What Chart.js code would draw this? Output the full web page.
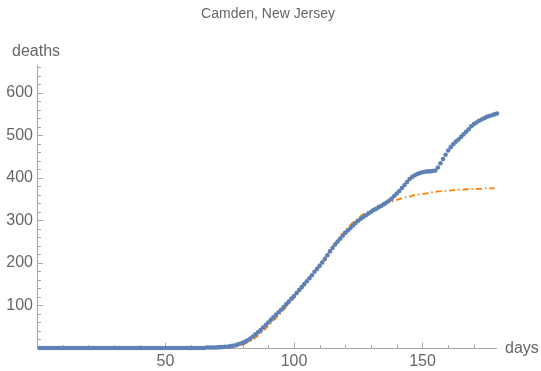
<!DOCTYPE html>
<html>
<head>
<meta charset="utf-8">
<script src="https://cdn.jsdelivr.net/npm/chart.js@4.4.1/dist/chart.umd.min.js"></script>
<style>
  html, body { margin:0; padding:0; background:#fff; }
  #wrap { width:541px; height:371px; }
</style>
</head>
<body>
<div id="wrap"><canvas id="chart" width="541" height="371"></canvas></div>
<script>
// Camden, NJ: muertes acumuladas (puntos) y ajuste (línea punto-raya)
const title = 'Camden, New Jersey';
const xLabel = 'days';
const yLabel = 'deaths';
const firstDay = 1;

// muertes observadas, un valor por día desde el día 1
const deaths = [
  0,0,0,0,0,0,0,0,0,0, 0,0,0,0,0,0,0,0,0,0,
  0,0,0,0,0,0,0,0,0,0, 0,0,0,0,0,0,0,0,0,0,
  0,0,0,0,0,0,0,0,0,0, 0,0,0,0,0,0,0,0,0,0,
  0,0,0,0,0,1,1,1,1,1,
  2,2,3,3,4,5,6,8,10,12,
  15,18,22,27,32,37,42,48,54,60,
  66,72,78,84,90,96,103,109,116,122,
  129,136,143,150,157,164,171,179,186,193,
  201,209,218,227,235,243,250,257,264,271,
  276,282,288,294,299,304,308,312,316,320,
  324,327,331,334,338,342,346,351,357,363,
  369,376,383,390,397,402,406,409,411,413,
  414,415,415,416,417,424,434,444,454,464,
  472,479,485,490,496,502,508,514,521,526,
  530,534,537,540,543,545,547,549,551,553
];

// curva ajustada, un valor por día desde el día 1
const fit = [
  0,0,0,0,0,0,0,0,0,0, 0,0,0,0,0,0,0,0,0,0,
  0,0,0,0,0,0,0,0,0,0, 0,0,0,0,0,0,0,0,0,0,
  0,0,0,0,0,0,0,0,0,0, 0,0,0,0,0,0,0,0,0,0,
  0,0,0,0,0,0,0,0,0,0,
  1,1,1,2,2,3,4,5,6,8,
  10,13,16,20,24,29,34,40,46,52,
  58,64,70,77,83,90,97,104,111,118,
  125,133,140,148,156,164,172,180,188,196,
  204,212,221,229,238,246,254,262,269,276,
  283,289,295,300,305,310,314,318,321,324,
  327,330,333,336,338,340,342,344,346,348,
  350,352,353,355,356,358,359,360,361,362,
  363,364,365,366,367,368,368,369,369,370,
  370,371,371,372,372,372,373,373,373,374,
  374,374,374,375,375,375,375,376
];

const xTickLabels = [50, 100, 150];
const yTickLabels = [100, 200, 300, 400, 500, 600];

const BLUE = '#5e81b5';
const ORANGE = '#ff8000';
const TEXT = '#666666';
const AXIS = '#a8a8a8';
const FONT = '"Liberation Sans", Arial, sans-serif';

const toPts = arr => arr.map((v, i) => ({ x: firstDay + i, y: v }));

// ejes al estilo Mathematica: línea + marcas hacia dentro
const axesPlugin = {
  id: 'mmaAxes',
  beforeDatasetsDraw(chart) {
    const { ctx, chartArea: a, scales: { x, y } } = chart;
    ctx.save();
    ctx.strokeStyle = AXIS;
    ctx.lineWidth = 1;
    ctx.beginPath();
    ctx.moveTo(a.left + 0.5, a.top);
    ctx.lineTo(a.left + 0.5, a.bottom + 1);
    ctx.moveTo(a.left, a.bottom + 0.5);
    ctx.lineTo(a.right, a.bottom + 0.5);
    for (let v = 10; v < x.max; v += 10) {
      const px = Math.round(x.getPixelForValue(v)) + 0.5;
      const len = v % 50 === 0 ? 5.5 : 3;
      ctx.moveTo(px, a.bottom);
      ctx.lineTo(px, a.bottom - len);
    }
    for (let v = 20; v < y.max; v += 20) {
      const py = Math.round(y.getPixelForValue(v)) + 0.5;
      const len = v % 100 === 0 ? 5 : 3;
      ctx.moveTo(a.left + 1, py);
      ctx.lineTo(a.left + 1 + len, py);
    }
    ctx.stroke();
    ctx.restore();
  },
  afterDraw(chart) {
    const { ctx } = chart;
    ctx.save();
    ctx.fillStyle = TEXT;
    ctx.textBaseline = 'alphabetic';
    ctx.textAlign = 'center';
    ctx.font = '14px ' + FONT;
    ctx.fillText(title, 268, 18);
    ctx.textAlign = 'left';
    ctx.font = '16px ' + FONT;
    ctx.fillText(yLabel, 12, 56);
    ctx.fillText(xLabel, 505, 353);
    ctx.restore();
  }
};

new Chart(document.getElementById('chart'), {
  type: 'scatter',
  data: {
    datasets: [
      {
        label: 'deaths',
        data: toPts(deaths),
        showLine: false,
        pointRadius: 2.3,
        pointHoverRadius: 2.3,
        pointBorderWidth: 0,
        backgroundColor: BLUE,
        borderColor: BLUE,
        clip: false,
        order: 0
      },
      {
        label: 'fit',
        data: toPts(fit),
        showLine: true,
        pointRadius: 0,
        borderColor: ORANGE,
        backgroundColor: ORANGE,
        borderWidth: 1.8,
        borderDash: [6, 3, 1.5, 3],
        tension: 0,
        clip: false,
        order: 1
      }
    ]
  },
  options: {
    responsive: false,
    animation: false,
    events: [],
    layout: { padding: { top: 65, right: 44, left: 0, bottom: 0 } },
    plugins: { legend: { display: false }, tooltip: { enabled: false }, title: { display: false } },
    scales: {
      x: {
        type: 'linear',
        min: 0,
        max: 179,
        grid: { display: false, drawTicks: false },
        border: { display: false },
        ticks: {
          stepSize: 10,
          autoSkip: false,
          maxRotation: 0,
          padding: 4,
          color: TEXT,
          font: { family: FONT, size: 16 },
          callback: v => xTickLabels.includes(v) ? String(v) : ''
        },
        afterFit: s => { s.height = 23; }
      },
      y: {
        type: 'linear',
        min: 0,
        max: 665,
        grid: { display: false, drawTicks: false },
        border: { display: false },
        ticks: {
          stepSize: 20,
          autoSkip: false,
          padding: 4,
          color: TEXT,
          font: { family: FONT, size: 16 },
          callback: v => yTickLabels.includes(v) ? String(v) : ''
        },
        afterFit: s => { s.width = 37; }
      }
    }
  },
  plugins: [axesPlugin]
});
</script>
</body>
</html>
